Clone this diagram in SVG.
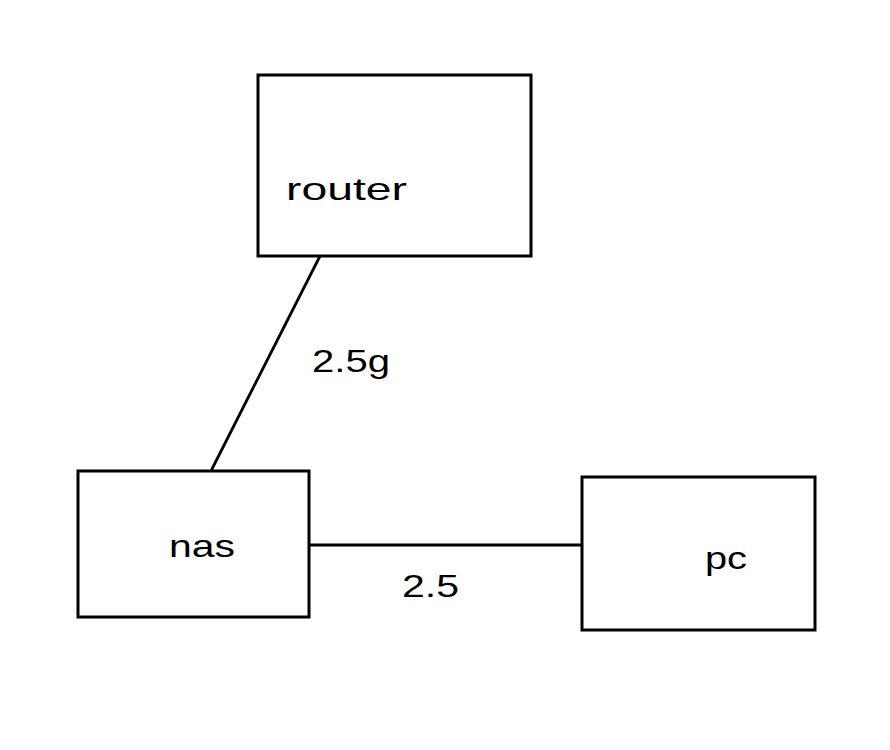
<svg xmlns="http://www.w3.org/2000/svg" width="890" height="750" viewBox="0 0 890 750">
<style>
.box{fill:#fff;stroke:#000;stroke-width:3}
.edge{stroke:#000;stroke-width:2.8;fill:none;stroke-linecap:round}
.t{font-family:"Liberation Sans","DejaVu Sans",sans-serif;font-size:32px;fill:#000}
</style>
<rect width="890" height="750" fill="#fff"/>
<g id="connectors">
<line class="edge" x1="321" y1="254" x2="212" y2="469"/>
<line class="edge" x1="309" y1="545" x2="584" y2="545"/>
<text class="t" x="312" y="372" textLength="78" lengthAdjust="spacingAndGlyphs">2.5g</text>
<text class="t" x="402" y="597" textLength="57" lengthAdjust="spacingAndGlyphs">2.5</text>
</g>
<g id="router">
<rect class="box" x="258" y="75" width="273" height="181"/>
<text class="t" x="286" y="200" textLength="121" lengthAdjust="spacingAndGlyphs">router</text>
</g>
<g id="nas">
<rect class="box" x="78" y="471" width="231" height="146"/>
<text class="t" x="169" y="557" textLength="66" lengthAdjust="spacingAndGlyphs">nas</text>
</g>
<g id="pc">
<rect class="box" x="582" y="477" width="233" height="153"/>
<text class="t" x="705" y="569" textLength="42" lengthAdjust="spacingAndGlyphs">pc</text>
</g>
</svg>
